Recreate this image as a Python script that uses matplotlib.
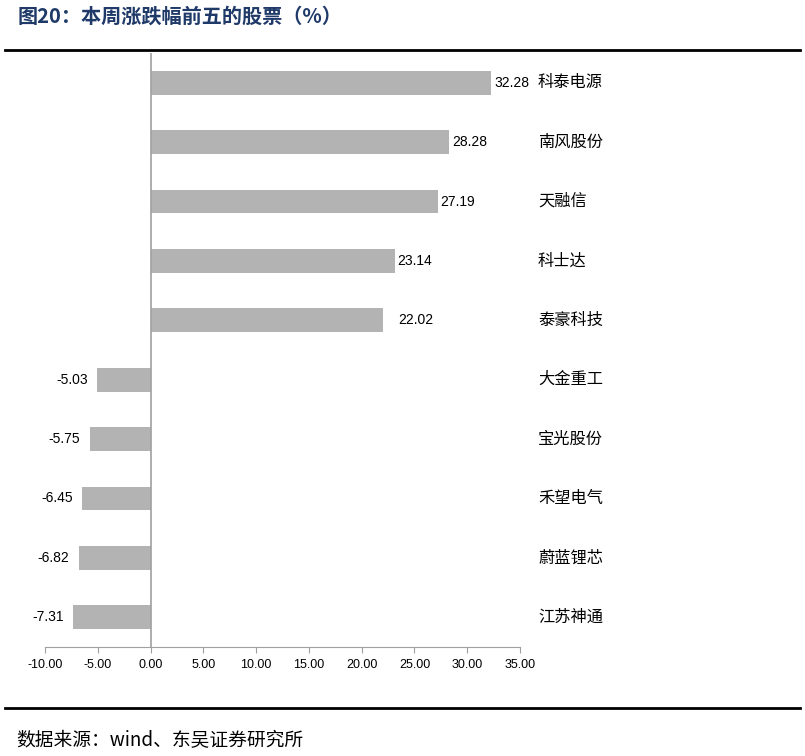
import matplotlib
matplotlib.use('Agg')
import matplotlib.pyplot as plt
import matplotlib.transforms as mtransforms

plt.rcParams['font.family'] = ['Liberation Sans', 'Noto Sans CJK SC', 'DejaVu Sans']

# data, top to bottom
names = ['科泰电源', '南风股份', '天融信', '科士达', '泰豪科技',
         '大金重工', '宝光股份', '禾望电气', '蔚蓝锂芯', '江苏神通']
values = [32.28, 28.28, 27.19, 23.14, 22.02,
          -5.03, -5.75, -6.45, -6.82, -7.31]
xticks = [-10, -5, 0, 5, 10, 15, 20, 25, 30, 35]

fig = plt.figure(figsize=(8.05, 7.56), dpi=100)
ax = fig.add_axes([45/805, 1-647/756, 475/805, 594/756])

pos = list(range(len(names)))
ax.barh(pos, values, height=0.4, color='#b3b3b3', zorder=2)
ax.set_ylim(len(names)-0.5, -0.5)
ax.set_xlim(-10, 35)

# value labels
for i, v in enumerate(values):
    if v >= 0:
        dx = 11 if i == 4 else 2
        ax.annotate('%.2f' % v, (v, i), xytext=(dx, 0), textcoords='offset points',
                    ha='left', va='center', fontsize=10)
    else:
        ax.annotate('%.2f' % v, (v, i), xytext=(-7, 0), textcoords='offset points',
                    ha='right', va='center', fontsize=10)

# category labels at right side
trans = mtransforms.blended_transform_factory(ax.transAxes, ax.transData)
for i, n in enumerate(names):
    ax.text(1.038, i, n, transform=trans, ha='left', va='center', fontsize=11.7,
            family=['Noto Sans CJK SC', 'DejaVu Sans'])

for s in ['top', 'right', 'left']:
    ax.spines[s].set_visible(False)
ax.spines['bottom'].set_color('#a0a0a0')
ax.axvline(0, color='#a0a0a0', lw=1.2, zorder=3)
ax.set_yticks([])
ax.set_xticks(xticks)
ax.set_xticklabels(['%.2f' % t for t in xticks], fontsize=9)
ax.tick_params(axis='x', direction='out', length=4, color='#a0a0a0', pad=5)

# title, rules, source
fig.text(18/805, 1-16/756, '图20：本周涨跌幅前五的股票（%）', ha='left', va='center',
         fontsize=14.5, fontweight='bold', color='#1f3a68',
         family=['Noto Sans CJK SC', 'DejaVu Sans'])
fig.add_artist(plt.Line2D([5/805, 800/805], [1-50/756, 1-50/756], color='black', lw=2))
fig.add_artist(plt.Line2D([5/805, 800/805], [1-708/756, 1-708/756], color='black', lw=2))
fig.text(16/805, 1-741/756, '数据来源：wind、东吴证券研究所', ha='left', va='center',
         fontsize=13.5, family=['Noto Sans CJK SC', 'DejaVu Sans'])

plt.savefig('out.png', dpi=100)
